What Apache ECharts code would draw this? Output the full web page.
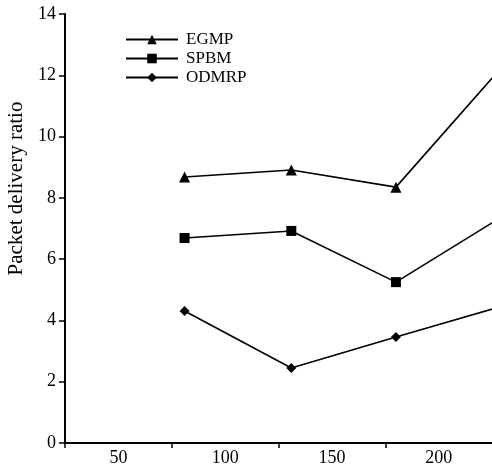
<!DOCTYPE html>
<html>
<head>
<meta charset="utf-8">
<script src="https://cdn.jsdelivr.net/npm/echarts@6/dist/echarts.min.js"></script>
<style>
  html, body { margin: 0; padding: 0; background: #fff; }
  #chart { width: 492px; height: 467px; }
</style>
</head>
<body>
<div id="chart"></div>
<script>
// x positions of the measurements and axis labels
const xValues = [81, 131, 180, 230]
const xLabels = [50, 100, 150, 200]
const xTicks = [25, 75, 125, 175]

const egmp = [8.68, 8.91, 8.35, 12.3]
const spbm = [6.69, 6.92, 5.25, 7.4]
const odmrp = [4.31, 2.45, 3.46, 4.47]

const pairs = ys => xValues.map((x, i) => [x, ys[i]])

const font = 'Liberation Serif'
const chart = echarts.init(document.getElementById('chart'))

const mkSeries = (name, symbol, size, data) => ({
    name,
    type: 'line',
    symbol,
    symbolSize: size,
    clip: false,
    data: pairs(data),
    lineStyle: { color: '#000', width: 1.6 },
    itemStyle: { color: '#000' }
})

chart.setOption({
    animation: false,
    textStyle: { fontFamily: font },
    grid: { left: 65, right: 0, top: 14, bottom: 24, outerBoundsMode: 'none' },
    legend: {
        orient: 'vertical',
        left: 125,
        top: 31,
        padding: 0,
        itemWidth: 52,
        itemHeight: 12,
        itemGap: 2,
        textStyle: { fontFamily: font, fontSize: 17, color: '#000', padding: [0, 0, 0, 3] },
        data: ['EGMP', 'SPBM', 'ODMRP']
    },
    xAxis: {
        type: 'value',
        min: 25,
        max: 225,
        splitLine: { show: false },
        axisLine: { lineStyle: { color: '#000', width: 2 } },
        axisTick: { customValues: xTicks, length: 5, lineStyle: { color: '#000', width: 1.5 } },
        axisLabel: { customValues: xLabels, color: '#000', fontSize: 18, margin: 6 }
    },
    yAxis: {
        type: 'value',
        min: 0,
        max: 14,
        interval: 2,
        name: 'Packet delivery ratio',
        nameLocation: 'middle',
        nameGap: 35,
        nameTextStyle: { fontSize: 21, color: '#000', padding: [0, 0, 0, 80] },
        splitLine: { show: false },
        axisLine: { lineStyle: { color: '#000', width: 2 } },
        axisTick: { length: 6, lineStyle: { color: '#000', width: 1.5 } },
        axisLabel: { color: '#000', fontSize: 18, margin: 9 }
    },
    series: [
        mkSeries('EGMP', 'triangle', 11, egmp),
        mkSeries('SPBM', 'rect', 10, spbm),
        mkSeries('ODMRP', 'diamond', 10, odmrp)
    ]
})
</script>
</body>
</html>
